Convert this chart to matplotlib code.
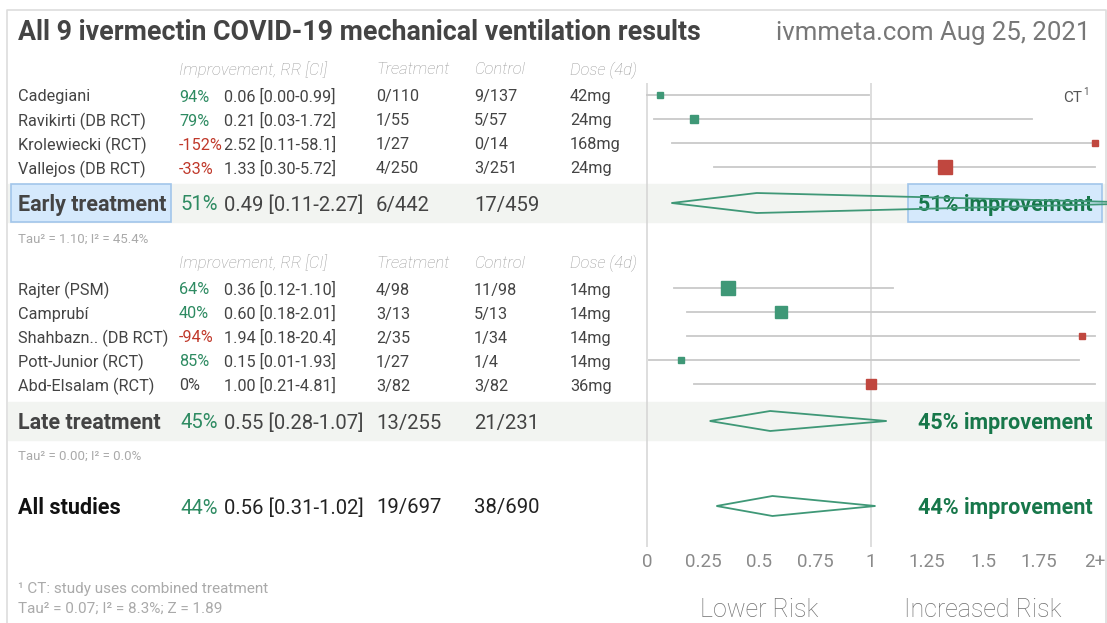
import matplotlib.pyplot as plt
from matplotlib.patches import Rectangle, Polygon

plt.rcParams['font.family'] = ['Roboto', 'DejaVu Sans']

# early treatment studies
early_names = ["Cadegiani", "Ravikirti (DB RCT)", "Krolewiecki (RCT)", "Vallejos (DB RCT)"]
early_rr = [0.06, 0.21, 2.52, 1.33]
early_lo = [0.00, 0.03, 0.11, 0.30]
early_hi = [0.99, 1.72, 58.1, 5.72]
early_trt = ["0/110", "1/55", "1/27", "4/250"]
early_ctl = ["9/137", "5/57", "0/14", "3/251"]
early_dose = ["42mg", "24mg", "168mg", "24mg"]
early_weight = [0.38, 0.59, 0.36, 1.0]

# late treatment studies
late_names = ["Rajter (PSM)", "Camprubí", "Shahbazn.. (DB RCT)", "Pott-Junior (RCT)", "Abd-Elsalam (RCT)"]
late_rr = [0.36, 0.60, 1.94, 0.15, 1.00]
late_lo = [0.12, 0.18, 0.18, 0.01, 0.21]
late_hi = [1.10, 2.01, 20.4, 1.93, 4.81]
late_trt = ["4/98", "3/13", "2/35", "1/27", "3/82"]
late_ctl = ["11/98", "5/13", "1/34", "1/4", "3/82"]
late_dose = ["14mg", "14mg", "14mg", "14mg", "36mg"]
late_weight = [0.97, 0.86, 0.41, 0.35, 0.62]

# pooled results: early, late, all
pooled_labels = ["Early treatment", "Late treatment", "All studies"]
pooled_rr = [0.49, 0.55, 0.56]
pooled_lo = [0.11, 0.28, 0.31]
pooled_hi = [2.27, 1.07, 1.02]
pooled_trt = ["6/442", "13/255", "19/697"]
pooled_ctl = ["17/459", "21/231", "38/690"]
pooled_tau = ["Tau² = 1.10; I² = 45.4%", "Tau² = 0.00; I² = 0.0%"]

tick_vals = [0, 0.25, 0.5, 0.75, 1, 1.25, 1.5, 1.75, 2]
tick_labels = ["0", "0.25", "0.5", "0.75", "1", "1.25", "1.5", "1.75", "2+"]

GREEN = '#2e8b62'
GREEN_BOLD = '#17774a'
RED = '#c0392b'
SQ_GREEN = '#3f9877'
SQ_RED = '#c0473f'
TXT = '#444444'
GRAY = '#9a9a9a'

FS = 11.7      # study rows
FS_P = 14.6    # pooled rows
DY = 2         # text nudge down to match glyph centres


def fmt(v):
    return f"{v:.1f}" if v >= 10 else f"{v:.2f}"


def pct_color(rr):
    p = round((1 - rr) * 100)
    if p > 0:
        return GREEN
    if p < 0:
        return RED
    return TXT


fig = plt.figure(figsize=(11.07, 6.23), dpi=100)
ax = fig.add_axes([0, 0, 1, 1])
ax.set_xlim(0, 1107)
ax.set_ylim(623, 0)
ax.axis('off')

# forest axes: 0 at pixel 647, 224 px per unit
fx = fig.add_axes([0, 0, 1, 1])
fx.set_xlim(-647 / 224, 460 / 224)
fx.set_ylim(623, 0)
fx.axis('off')
fx.patch.set_alpha(0)

# frame
ax.plot([7, 7, 1106, 1106], [623, 10, 10, 623], color='#dddddd', lw=1.2)

# title
ax.text(18, 31 + DY, "All 9 ivermectin COVID-19 mechanical ventilation results",
        fontsize=19.3, fontweight='bold', color=TXT, va='center')
ax.text(1090, 31 + DY, "ivmmeta.com Aug 25, 2021", fontsize=18.5,
        color='#777777', va='center', ha='right')

col_pct, col_rr, col_trt, col_ctl, col_dose = 179, 224, 376, 474, 570


def header(y):
    for x, s in zip([col_pct, col_trt, col_ctl, col_dose],
                    ["Improvement, RR [CI]", "Treatment", "Control", "Dose (4d)"]):
        ax.text(x, y + DY, s, fontsize=12, style='italic', fontweight='light',
                color=GRAY, va='center')


def study_rows(ys, names, rr, lo, hi, trt, ctl, dose, weight):
    for i, y in enumerate(ys):
        ty = y + DY
        ax.text(18, ty, names[i], fontsize=FS, color=TXT, va='center')
        ax.text(col_pct, ty, f"{round((1 - rr[i]) * 100)}%", fontsize=FS,
                color=pct_color(rr[i]), va='center')
        ax.text(col_rr, ty, f"{rr[i]:.2f} [{fmt(lo[i])}-{fmt(hi[i])}]",
                fontsize=FS, color=TXT, va='center')
        ax.text(col_trt, ty, trt[i], fontsize=FS, color=TXT, va='center')
        ax.text(col_ctl, ty, ctl[i], fontsize=FS, color=TXT, va='center')
        ax.text(col_dose, ty, dose[i], fontsize=FS, color=TXT, va='center')
        fx.plot([lo[i], min(hi[i], 2)], [y, y], color='#c9c9c9', lw=1.3, zorder=2)
        c = SQ_GREEN if rr[i] < 1 else SQ_RED
        fx.plot([min(rr[i], 2)], [y], marker='s', ms=10.5 * weight[i],
                color=c, mec=c, zorder=3)


def pooled(k, y, band=True, box=False):
    if band:
        ax.add_patch(Rectangle((8, y - 19), 1098, 38, color='#f2f4f1', zorder=0))
    if box:
        ax.add_patch(Rectangle((11, y - 19), 160, 38, facecolor='#d5e9fc',
                               edgecolor='#a2c6ea', lw=1.2, zorder=1))
        ax.add_patch(Rectangle((908, y - 19), 194, 38, facecolor='#d5e9fc',
                               edgecolor='#a2c6ea', lw=1.2, zorder=1))
    ty = y + DY
    col = '#111111' if k == 2 else TXT
    ax.text(18, ty, pooled_labels[k], fontsize=15.5, fontweight='bold', color=col,
            va='center', zorder=4)
    p = round((1 - pooled_rr[k]) * 100)
    ax.text(col_pct + 1, ty, f"{p}%", fontsize=FS_P, color=pct_color(pooled_rr[k]),
            va='center')
    vc = '#222222' if k == 2 else TXT
    ax.text(col_rr, ty, f"{pooled_rr[k]:.2f} [{fmt(pooled_lo[k])}-{fmt(pooled_hi[k])}]",
            fontsize=FS_P, color=vc, va='center')
    ax.text(col_trt, ty, pooled_trt[k], fontsize=FS_P, color=vc, va='center')
    ax.text(col_ctl, ty, pooled_ctl[k], fontsize=FS_P, color=vc, va='center')
    dia = Polygon([[pooled_lo[k], y], [pooled_rr[k], y - 10],
                   [pooled_hi[k], y], [pooled_rr[k], y + 10]], closed=True,
                  fill=False, edgecolor=SQ_GREEN, lw=1.3, zorder=5)
    fx.add_patch(dia)
    ax.text(1093, ty, f"{p}% improvement", fontsize=15.5, fontweight='bold',
            color=GREEN_BOLD, va='center', ha='right', zorder=4)


# reference lines
fx.vlines([0, 1], 83, 547, color='#d4d4d4', lw=1.1, zorder=1)

header(68)
study_rows([95, 119, 143, 167], early_names, early_rr, early_lo, early_hi,
           early_trt, early_ctl, early_dose, early_weight)
ax.text(1082, 96 + DY, "CT", fontsize=11, color='#555555', va='center', ha='right')
ax.text(1083, 90 + DY, "1", fontsize=7, color='#555555', va='center', ha='left')
pooled(0, 203, box=True)
ax.text(18, 237 + DY, pooled_tau[0], fontsize=9.5, color='#aaaaaa', va='center')

header(261)
study_rows([288, 312, 336, 360, 384], late_names, late_rr, late_lo, late_hi,
           late_trt, late_ctl, late_dose, late_weight)
pooled(1, 421)
ax.text(18, 454 + DY, pooled_tau[1], fontsize=9.5, color='#aaaaaa', va='center')

pooled(2, 506, band=False)

for t, lab in zip(tick_vals, tick_labels):
    fx.text(t, 560 + DY, lab, fontsize=13.5, color='#8a8a8a',
            ha='center', va='center')

fx.text(0.5, 608 + DY, "Lower Risk", fontsize=18, fontweight='light', color='#707070',
        ha='center', va='center')
fx.text(1.5, 608 + DY, "Increased Risk", fontsize=18, fontweight='light', color='#707070',
        ha='center', va='center')

ax.text(18, 587 + DY, "¹ CT: study uses combined treatment", fontsize=11,
        color='#aaaaaa', va='center')
ax.text(18, 607 + DY, "Tau² = 0.07; I² = 8.3%; Z = 1.89", fontsize=11,
        color='#aaaaaa', va='center')

fig.savefig("out.png", dpi=100)
